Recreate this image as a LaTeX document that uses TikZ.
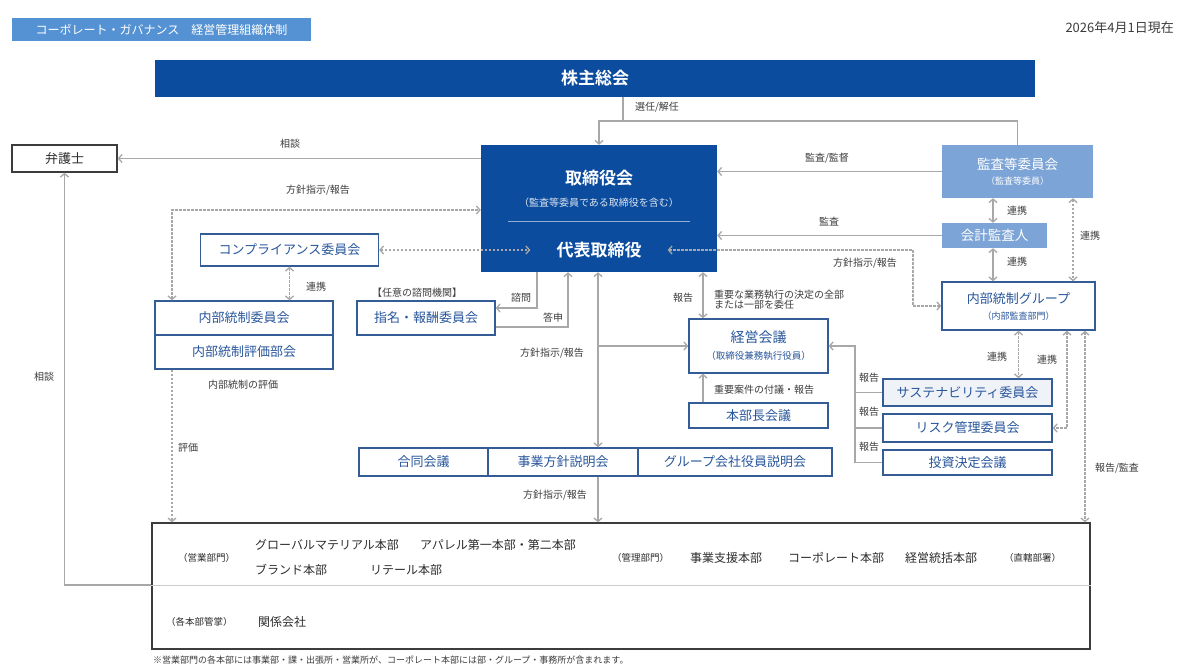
\documentclass[tikz,border=0pt]{standalone}
\usepackage{fontspec}
\setmainfont{Noto Sans CJK JP}[BoldFont={Noto Sans CJK JP Bold}]
\usepackage{tikz}
\usetikzlibrary{arrows.meta}
\usetikzlibrary{positioning}

\definecolor{navy}{RGB}{12,76,158}
\definecolor{midblue}{RGB}{125,164,214}
\definecolor{tagblue}{RGB}{84,146,212}
\definecolor{boxline}{RGB}{52,92,150}
\definecolor{boxtext}{RGB}{40,86,155}
\definecolor{linegray}{RGB}{168,168,168}
\definecolor{labelgray}{RGB}{60,60,60}
\definecolor{deptgray}{RGB}{45,45,45}

\newcommand\fsz[1]{\fontsize{#1}{#1}\selectfont}

\begin{document}
\begin{tikzpicture}[x=1pt,y=-1pt,
  >={Straight Barb[length=3.5pt,width=8pt]},
  box/.style={draw=boxline, line width=1.4pt, fill=white, text=boxtext, inner sep=0pt, font=\fsz{13}, align=center},
  dark box/.style={fill=navy, text=white, inner sep=0pt, align=center},
  mid box/.style={fill=midblue, text=white, inner sep=0pt, align=center, font=\fsz{13.5}},
  lbl/.style={text=labelgray, font=\fsz{10}, inner sep=1pt, align=left},
  dept/.style={text=deptgray, font=\fsz{12}, inner sep=0pt, anchor=west},
  conn/.style={draw=linegray, line width=1.3pt},
  dashline/.style={conn, dash pattern=on 2.5pt off 1.5pt}]

  \fill[white] (0,0) rectangle (1180,668);
  \useasboundingbox (0,0) rectangle (1180,668);

  % header
  \node[fill=tagblue, text=white, font=\fsz{12}, minimum width=299pt, minimum height=23pt, inner sep=0pt] (tag) at (161.5,29.5) {コーポレート・ガバナンス\hspace{1em}経営管理組織体制};
  \node[anchor=east, font=\fsz{13}, text=labelgray, inner sep=0pt] (date) at (1174,28) {2026年4月1日現在};

  \node[dark box, minimum width=880pt, minimum height=37pt, font=\bfseries\fsz{17}] (shareholders) at (595,78.5) {株主総会};

  % board
  \node[dark box, minimum width=236pt, minimum height=127pt] (board) at (599,208.5) {};
  \node[text=white, font=\bfseries\fsz{17}] (boardTitle) at (599,178) {取締役会};
  \node[text=white!85!navy, font=\fsz{10}] (boardSub) at (599,203) {（監査等委員である取締役を含む）};
  \draw[white!55!navy, line width=1pt] (508,222) -- (690,222);
  \node[text=white, font=\bfseries\fsz{17}, inner xsep=26pt, inner ysep=2pt] (rep) at (599,250) {代表取締役};

  \node[mid box, minimum width=151pt, minimum height=53pt] (auditCommittee) at (1017.5,171.5) {監査等委員会\\[2pt]{\fsz{9}（監査等委員）}};
  \node[mid box, minimum width=105pt, minimum height=25pt] (accountant) at (994.5,235.5) {会計監査人};
  \node[box, minimum width=153pt, minimum height=48pt] (internalAudit) at (1018.5,306) {内部統制グループ\\[3pt]{\fsz{9}（内部監査部門）}};

  \node[box, text=deptgray, draw=labelgray, minimum width=105pt, minimum height=27pt] (lawyer) at (64.5,158.5) {弁護士};
  \node[box, minimum width=178pt, minimum height=32pt] (compliance) at (289.5,250) {コンプライアンス委員会};
  \node[box, minimum width=178pt, minimum height=34pt] (icCommittee) at (244,318) {内部統制委員会};
  \node[box, minimum width=178pt, minimum height=34pt] (icEval) at (244,352) {内部統制評価部会};
  \node[box, minimum width=138pt, minimum height=34pt] (nomination) at (426,318) {指名・報酬委員会};

  \node[box, minimum width=139pt, minimum height=54pt] (mgmt) at (758.5,346) {{\fsz{14}経営会議}\\[4pt]{\fsz{9.5}（取締役兼務執行役員）}};
  \node[box, minimum width=139pt, minimum height=25pt] (heads) at (758.5,415.5) {本部長会議};

  \node[box, fill=boxline!8, minimum width=169pt, minimum height=27pt] (sustain) at (967.5,392.5) {サステナビリティ委員会};
  \node[box, minimum width=169pt, minimum height=28pt] (risk) at (967.5,428) {リスク管理委員会};
  \node[box, minimum width=169pt, minimum height=25pt] (invest) at (967.5,462.5) {投資決定会議};

  \node[box, minimum width=129pt, minimum height=28pt] (joint) at (423.5,462) {合同会議};
  \node[box, minimum width=150pt, minimum height=28pt] (policy) at (563,462) {事業方針説明会};
  \node[box, minimum width=194pt, minimum height=28pt] (groupExec) at (735,462) {グループ会社役員説明会};

  % divisions
  \node[draw=labelgray, line width=1.3pt, fill=white, minimum width=938pt, minimum height=126pt, inner sep=0pt] (divisions) at (621,586) {};
  \draw[linegray!60, line width=1pt] (divisions.west |- 0,585) -- (divisions.east |- 0,585);
  \node[dept, font=\fsz{9.5}] (salesTag) at (178,558) {（営業部門）};
  \node[dept] (globalMat) at (255,545) {グローバルマテリアル本部};
  \node[dept] (apparel) at (420,545) {アパレル第一本部・第二本部};
  \node[dept] (brand) at (255,570) {ブランド本部};
  \node[dept] (retail) at (370,570) {リテール本部};
  \node[dept, font=\fsz{9.5}] (adminTag) at (612,558) {（管理部門）};
  \node[dept] (bizSupport) at (690,558) {事業支援本部};
  \node[dept] (corporate) at (788,558) {コーポレート本部};
  \node[dept] (mgmtHQ) at (905,558) {経営統括本部};
  \node[dept, font=\fsz{9.5}] (directTag) at (1004,558) {（直轄部署）};
  \node[dept, font=\fsz{9.5}] (affTag) at (166,622) {（各本部管掌）};
  \node[dept] (affiliates) at (258,622) {関係会社};
  \node[lbl, anchor=west, font=\fsz{9}] (note) at (152,660) {※営業部門の各本部には事業部・課・出張所・営業所が、コーポレート本部には部・グループ・事務所が含まれます。};

  % connectors
  \coordinate (elect) at (623,121);
  \draw[conn] (shareholders.south -| elect) -- (elect);
  \draw[conn,->] (elect) -| (board.north);
  \draw[conn] (elect) -| (auditCommittee.north);
  \node[lbl] at (657,107) {選任/解任};

  \draw[conn,->] (board.west |- lawyer) -- (lawyer.east);
  \node[lbl] at (290,144) {相談};

  \coordinate (icTop) at (172,210);
  \draw[dashline,<->] (icCommittee.north -| icTop) -- (icTop) -- (icTop -| board.west);
  \node[lbl] at (318,190) {方針指示/報告};

  \draw[dashline,<->] (compliance.east) -- (rep.west);
  \draw[dashline,<->] (compliance.south) -- (compliance.south |- icCommittee.north);
  \node[lbl] at (316,287) {連携};
  \node[lbl] at (243,385) {内部統制の評価};

  \coordinate (consult) at (537,308);
  \coordinate (answer) at (568,327);
  \draw[conn,->] (board.south -| consult) |- (nomination.east |- consult);
  \draw[conn,->] (nomination.east |- answer) -| (board.south -| answer);
  \node[lbl] at (521,298) {諮問};
  \node[lbl] at (553,318) {答申};
  \node[lbl] at (417,293) {【任意の諮問機関】};

  \coordinate (spine) at (598,346);
  \draw[conn,<->] (board.south -| spine) -- (policy.north -| spine);
  \draw[conn,->] (spine) -- (mgmt.west);
  \node[lbl] at (552,353) {方針指示/報告};
  \draw[conn,->] (policy.south -| spine) -- (divisions.north -| spine);
  \node[lbl] at (555,495) {方針指示/報告};

  \coordinate (delegate) at (703,300);
  \draw[conn,<->] (board.south -| delegate) -- (mgmt.north -| delegate);
  \node[lbl] at (683,298) {報告};
  \node[lbl, anchor=west] at (713,300) {重要な業務執行の決定の全部\\または一部を委任};
  \draw[conn,->] (heads.north -| delegate) -- (mgmt.south -| delegate);
  \node[lbl, anchor=west] at (713,390) {重要案件の付議・報告};

  \coordinate (rptLine) at (855,346);
  \draw[conn,->] (invest.west) -| (rptLine) -- (mgmt.east);
  \draw[conn] (sustain.west) -- (sustain.west -| rptLine);
  \draw[conn] (risk.west) -- (risk.west -| rptLine);
  \node[lbl] at (869,378) {報告};
  \node[lbl] at (869,412) {報告};
  \node[lbl] at (869,447) {報告};

  \draw[conn,->] (auditCommittee.west) -- (auditCommittee.west -| board.east);
  \node[lbl] at (827,158) {監査/監督};
  \draw[conn,->] (accountant.west) -- (accountant.west -| board.east);
  \node[lbl] at (829,222) {監査};

  \coordinate (link) at (993,0);
  \draw[conn,<->] (auditCommittee.south -| link) -- (accountant.north -| link);
  \draw[conn,<->] (accountant.south -| link) -- (internalAudit.north -| link);
  \node[lbl] at (1017,211) {連携};
  \node[lbl] at (1017,262) {連携};
  \coordinate (sideLink) at (1073,0);
  \draw[dashline,<->] (auditCommittee.south -| sideLink) -- (internalAudit.north -| sideLink);
  \node[lbl] at (1090,236) {連携};

  \coordinate (iaTurn) at (913,250);
  \draw[dashline,<->] (rep.east) -- (iaTurn) |- (internalAudit.west);
  \node[lbl] at (865,263) {方針指示/報告};

  \draw[dashline,<->] (internalAudit.south) -- (internalAudit.south |- sustain.north);
  \node[lbl] at (997,357) {連携};
  \coordinate (riskLink) at (1067,428);
  \draw[dashline,<->] (internalAudit.south -| riskLink) |- (risk.east);
  \node[lbl] at (1047,360) {連携};
  \coordinate (auditLink) at (1085,0);
  \draw[dashline,<->] (internalAudit.south -| auditLink) -- (divisions.north -| auditLink);
  \node[lbl] at (1117,468) {報告/監査};

  \draw[dashline,->] (icEval.south -| icTop) -- (divisions.north -| icTop);
  \node[lbl] at (188,448) {評価};

  \coordinate (lawCorner) at (64.5,585);
  \draw[conn,->] (divisions.west |- lawCorner) -- (lawCorner) -- (lawyer.south);
  \node[lbl] at (44,377) {相談};
\end{tikzpicture}
\end{document}
